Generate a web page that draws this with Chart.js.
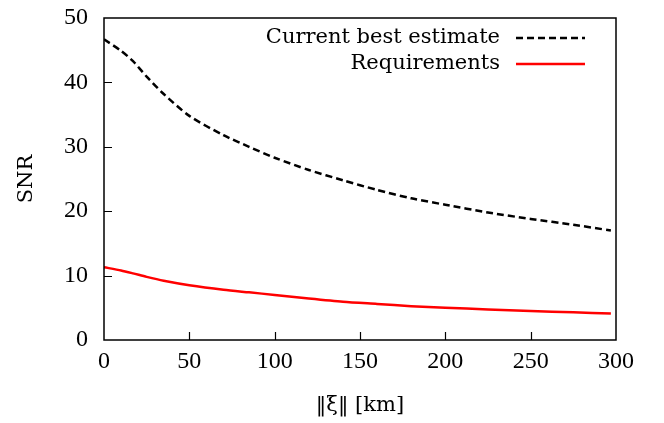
<!DOCTYPE html>
<html>
<head>
<meta charset="utf-8">
<script src="https://cdn.jsdelivr.net/npm/chart.js@4/dist/chart.umd.min.js"></script>
<style>
  html, body { margin: 0; padding: 0; background: #fff; }
  #wrap { width: 664px; height: 423px; }
</style>
</head>
<body>
<div id="wrap"><canvas id="grafico" width="664" height="423"></canvas></div>
<script>
// distance in km
const distancias = [0, 10, 17, 25, 35, 50, 70, 85, 100, 120, 140, 160, 180, 200, 225, 250, 275, 297];
const melhorEstimativa = [46.7, 44.9, 43.3, 40.9, 38.2, 34.8, 31.8, 30.0, 28.3, 26.4, 24.8, 23.3, 22.0, 21.0, 19.8, 18.8, 17.9, 17.0];
const requisitos = [11.3, 10.8, 10.35, 9.8, 9.2, 8.5, 7.8, 7.4, 7.0, 6.45, 5.95, 5.6, 5.25, 5.0, 4.75, 4.5, 4.3, 4.1];
const ticksX = [0, 50, 100, 150, 200, 250, 300];
const ticksY = [0, 10, 20, 30, 40, 50];

const fonteNum = '"Liberation Serif", serif';
const fonteTexto = '"DejaVu Serif", serif';

function pontos(valores) {
    return distancias.map((d, i) => ({ x: d, y: valores[i] }));
}

// box round the plot, inward ticks and the legend (gnuplot look)
const moldura = {
    id: 'moldura',
    afterDraw(chart) {
        const c = chart.ctx;
        const a = chart.chartArea;
        const sx = chart.scales.x, sy = chart.scales.y;
        c.save();
        c.strokeStyle = '#000';
        c.lineWidth = 1.5;
        c.strokeRect(a.left, a.top, a.right - a.left, a.bottom - a.top);
        c.beginPath();
        ticksX.slice(1, -1).forEach(v => {
            const px = Math.round(sx.getPixelForValue(v)) + 0.5;
            c.moveTo(px, a.bottom);
            c.lineTo(px, a.bottom - 8);
        });
        ticksY.slice(1, -1).forEach(v => {
            const py = Math.round(sy.getPixelForValue(v)) + 0.5;
            c.moveTo(a.left, py);
            c.lineTo(a.left + 8, py);
        });
        c.lineWidth = 1.2;
        c.stroke();

        // legend
        c.font = '21px ' + fonteTexto;
        c.textAlign = 'right';
        c.textBaseline = 'middle';
        c.fillStyle = '#000';
        chart.data.datasets.forEach((ds, i) => {
            const y = 38 + i * 26;
            c.fillText(ds.label, 500, y);
            c.beginPath();
            c.strokeStyle = ds.borderColor;
            c.lineWidth = ds.borderWidth;
            c.setLineDash(ds.borderDash || []);
            c.moveTo(516, y);
            c.lineTo(585, y);
            c.stroke();
            c.setLineDash([]);
        });
        c.restore();
    }
};

const ctx = document.getElementById('grafico').getContext('2d');
const grafico = new Chart(ctx, {
    type: 'line',
    data: {
        datasets: [{
            label: 'Current best estimate',
            data: pontos(melhorEstimativa),
            borderColor: '#000',
            borderWidth: 2.5,
            borderDash: [7, 4],
            pointRadius: 0,
            tension: 0.25,
            fill: false
        }, {
            label: 'Requirements',
            data: pontos(requisitos),
            borderColor: '#ff0000',
            borderWidth: 2.5,
            pointRadius: 0,
            tension: 0.25,
            fill: false
        }]
    },
    options: {
        responsive: false,
        animation: false,
        layout: { padding: { top: 18, right: 48, left: 0, bottom: 0 } },
        plugins: {
            legend: { display: false },
            tooltip: { enabled: false }
        },
        scales: {
            x: {
                type: 'linear',
                min: 0,
                max: 300,
                afterFit: s => { s.height = 83; s.paddingLeft = 0; s.paddingRight = 0; },
                afterBuildTicks: s => { s.ticks = ticksX.map(v => ({ value: v })); },
                grid: { display: false, drawTicks: false },
                border: { display: false },
                ticks: { color: '#000', padding: 7, font: { family: fonteNum, size: 24 } },
                title: {
                    display: true,
                    text: '‖ξ‖ [km]',
                    color: '#000',
                    padding: { top: 0, bottom: 5 },
                    font: { family: fonteTexto, size: 21 }
                }
            },
            y: {
                min: 0,
                max: 50,
                afterFit: s => { s.width = 104; s.paddingTop = 0; s.paddingBottom = 0; },
                afterBuildTicks: s => { s.ticks = ticksY.map(v => ({ value: v })); },
                grid: { display: false, drawTicks: false },
                border: { display: false },
                ticks: { color: '#000', padding: 16, font: { family: fonteNum, size: 24 } },
                title: {
                    display: true,
                    text: 'SNR',
                    color: '#000',
                    padding: { top: 14, bottom: 0 },
                    font: { family: fonteTexto, size: 21 }
                }
            }
        }
    },
    plugins: [moldura]
});
</script>
</body>
</html>
